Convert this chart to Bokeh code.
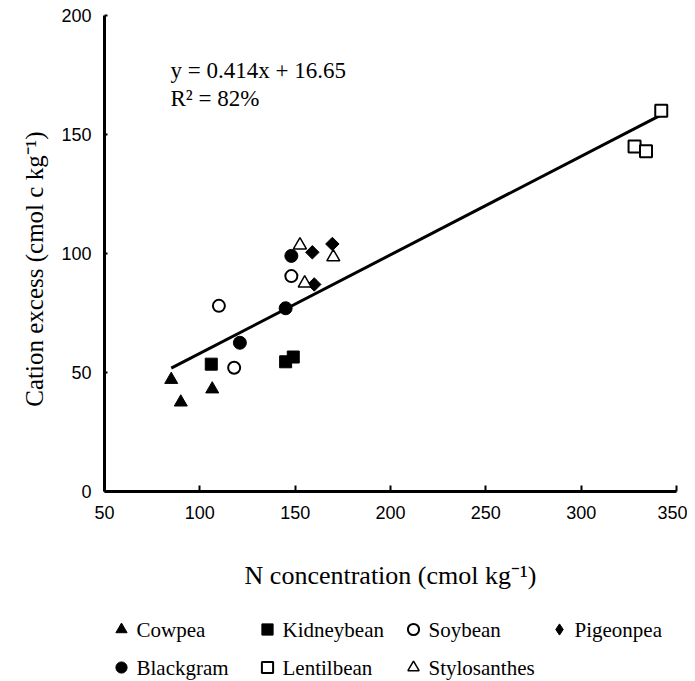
import math
from bokeh.plotting import figure
from bokeh.layouts import column
from bokeh.models import Legend, LegendItem, Label, Range1d, FixedTicker
from bokeh.embed import file_html
from bokeh.resources import INLINE

# ---- data ----
cowpea_x = [85, 90, 106.5]
cowpea_y = [47, 37.5, 43]
kidney_x = [106, 145, 149]
kidney_y = [53.5, 54.5, 56.5]
soy_x = [110, 118, 148]
soy_y = [78, 52, 90.5]
pigeon_x = [159, 169.5, 160]
pigeon_y = [100.5, 104, 87]
black_x = [121, 145, 148]
black_y = [62.5, 77, 99]
lentil_x = [342, 328, 334]
lentil_y = [160, 145, 143]
stylo_x = [152.5, 155, 170]
stylo_y = [103.5, 87.5, 98.5]

slope = 0.414
intercept = 16.65
fit_x = [85, 342]
fit_y = [slope * v + intercept for v in fit_x]

x_ticks = [50, 100, 150, 200, 250, 300, 350]
y_ticks = [0, 50, 100, 150, 200]

SERIF = "Liberation Serif"
SANS = "Liberation Sans"

series = [
    ("Cowpea", cowpea_x, cowpea_y, dict(marker="triangle", size=13, color="black")),
    ("Kidneybean", kidney_x, kidney_y, dict(marker="square", size=12, color="black")),
    ("Soybean", soy_x, soy_y, dict(marker="circle", size=12, fill_color="white",
                                   line_color="black", line_width=2)),
    ("Pigeonpea", pigeon_x, pigeon_y, dict(marker="diamond", size=15, color="black")),
    ("Blackgram", black_x, black_y, dict(marker="circle", size=13, color="black")),
    ("Lentilbean", lentil_x, lentil_y, dict(marker="square", size=12, fill_color="white",
                                            line_color="black", line_width=2)),
    ("Stylosanthes", stylo_x, stylo_y, dict(marker="triangle", size=13, fill_color="white",
                                            line_color="black", line_width=1.5)),
]
# in the chart itself the pigeonpea diamond is a square turned by 45 degrees
chart_style = {"Pigeonpea": dict(marker="square", size=9.5, angle=math.pi / 4, color="black")}

# ---------------- main chart ----------------
p = figure(width=687, height=600, output_backend="svg", toolbar_location=None,
           x_range=Range1d(50, 350), y_range=Range1d(0, 200),
           min_border_left=104, min_border_right=11, min_border_top=15,
           min_border_bottom=109)
p.outline_line_color = None
p.xgrid.grid_line_color = None
p.ygrid.grid_line_color = None

for ax in (p.xaxis[0], p.yaxis[0]):
    ax.axis_line_width = 3
    ax.axis_line_color = "black"
    ax.major_tick_line_width = 2
    ax.major_tick_out = 0
    ax.minor_tick_line_color = None
    ax.major_label_text_font = SANS
    ax.major_label_text_font_size = "18px"
    ax.major_label_text_color = "black"
    ax.axis_label_text_font = SERIF
    ax.axis_label_text_font_style = "normal"
    ax.axis_label_text_color = "black"

p.xaxis.ticker = FixedTicker(ticks=x_ticks)
p.yaxis.ticker = FixedTicker(ticks=y_ticks)
p.xaxis.major_tick_in = 6
p.yaxis.major_tick_in = 3
p.xaxis.major_label_standoff = 14
p.yaxis.major_label_standoff = 13
p.xaxis.axis_label = "N concentration (cmol kg\u207b\u00b9)"
p.yaxis.axis_label = "Cation excess (cmol c kg\u207b\u00b9)" + "\u00a0" * 5
p.xaxis.axis_label_text_font_size = "26px"
p.yaxis.axis_label_text_font_size = "25px"
p.xaxis.axis_label_standoff = 39
p.yaxis.axis_label_standoff = 10

p.line(fit_x, fit_y, line_color="black", line_width=3)
for name, xs, ys, style in series:
    p.scatter(xs, ys, **chart_style.get(name, style))

p.add_layout(Label(x=84.6, y=177, text="y = 0.414x + 16.65", text_font=SERIF,
                   text_font_size="23px", text_baseline="middle", text_color="black"))
p.add_layout(Label(x=84.6, y=165, text="R\u00b2 = 82%", text_font=SERIF,
                   text_font_size="23px", text_baseline="middle", text_color="black"))

# ---------------- legend strip below ----------------
STRIP_W, STRIP_H = 572, 81          # strip frame in pixels (aligned with main frame)
NCOLS = 4
GLYPH = 28
STANDOFF = 1
LABEL_W = 107
SPACING = 10
LEG_X = 3
ROW_Y = [52, 14]                    # row centres (px from strip bottom)

q = figure(width=687, height=STRIP_H, output_backend="svg", toolbar_location=None,
           x_range=Range1d(0, STRIP_W), y_range=Range1d(0, STRIP_H),
           x_axis_type=None, y_axis_type=None,
           min_border_left=0, min_border_right=0, min_border_top=0,
           min_border_bottom=0)
q.outline_line_color = None
q.xgrid.grid_line_color = None
q.ygrid.grid_line_color = None

items = []
for i, (name, xs, ys, style) in enumerate(series):
    r = q.scatter(xs, ys, **style)
    r.visible = False               # only its legend swatch is shown here
    items.append(LegendItem(label="\u00a0", renderers=[r]))
    col, row = i % NCOLS, i // NCOLS
    q.add_layout(Label(x=LEG_X + col * (GLYPH + STANDOFF + LABEL_W + SPACING) + GLYPH + STANDOFF,
                       y=ROW_Y[row], text=name, text_font=SERIF, text_font_size="21px",
                       text_baseline="middle", text_color="black"))

legend = Legend(items=items, orientation="horizontal", ncols=NCOLS, location=(LEG_X, 0),
                padding=0, margin=0, spacing=SPACING, glyph_width=GLYPH, glyph_height=GLYPH,
                label_standoff=STANDOFF, label_width=LABEL_W, label_height=GLYPH,
                label_text_font_size="21px", label_text_baseline="middle",
                inactive_fill_alpha=0, click_policy="none",
                border_line_color=None, background_fill_alpha=0)
q.add_layout(legend)

open("out.html", "w").write(file_html(column(p, q, spacing=0), INLINE))
